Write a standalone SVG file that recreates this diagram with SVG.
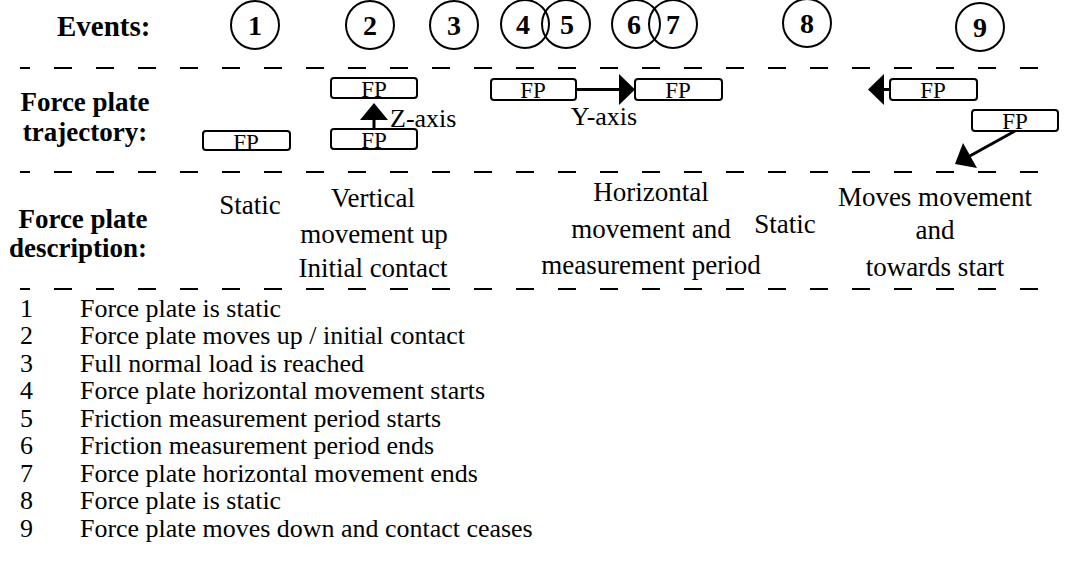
<svg xmlns="http://www.w3.org/2000/svg" width="1065" height="585" viewBox="0 0 1065 585">
<defs>
<style>
.t{font-family:"Liberation Serif","Times New Roman",serif;fill:#000}
.h{font-size:27px;font-weight:bold}
.n{font-size:28px;font-weight:bold;text-anchor:middle}
.d{font-size:27px;text-anchor:middle}
.l{font-size:24.5px}
.fp{font-size:23px;text-anchor:middle}
.ax{font-size:26px}
.c{fill:none;stroke:#000;stroke-width:2}
.box{fill:#fff;stroke:#000;stroke-width:2}
.dash{stroke:#000;stroke-width:2;stroke-dasharray:18 24;stroke-dashoffset:8}
.sh{stroke:#000;stroke-width:3;fill:none}
.ah{fill:#000}
</style>
</defs>
<rect width="1065" height="585" fill="#fff"/>
<g id="headers">
<text class="t h" x="57" y="36" style="font-size:29px">Events:</text>
<text class="t h" x="85" y="111" text-anchor="middle">Force plate</text>
<text class="t h" x="85" y="141" text-anchor="middle">trajectory:</text>
<text class="t h" x="83" y="228" text-anchor="middle">Force plate</text>
<text class="t h" x="78" y="257" text-anchor="middle">description:</text>
</g>
<g id="dividers">
<line class="dash" x1="20" y1="68" x2="1046" y2="68"/>
<line class="dash" x1="20" y1="172" x2="1046" y2="172"/>
<line class="dash" x1="20" y1="289" x2="1046" y2="289"/>
</g>
<g id="events">
<g id="ev1"><circle class="c" cx="255" cy="25" r="24"/><text class="t n" x="255" y="35">1</text></g>
<g id="ev2"><circle class="c" cx="370" cy="25" r="24"/><text class="t n" x="370" y="35">2</text></g>
<g id="ev3"><circle class="c" cx="454" cy="25" r="24"/><text class="t n" x="454" y="35">3</text></g>
<g id="ev4"><circle class="c" cx="525" cy="24" r="24"/><text class="t n" x="523" y="34">4</text></g>
<g id="ev5"><circle class="c" cx="566" cy="24" r="24"/><text class="t n" x="567" y="34">5</text></g>
<g id="ev6"><circle class="c" cx="636" cy="24" r="24"/><text class="t n" x="634" y="34">6</text></g>
<g id="ev7"><circle class="c" cx="673" cy="24" r="24"/><text class="t n" x="673" y="34">7</text></g>
<g id="ev8"><circle class="c" cx="807" cy="23" r="24"/><text class="t n" x="807" y="33">8</text></g>
<g id="ev9"><circle class="c" cx="980" cy="27" r="24"/><text class="t n" x="980" y="37">9</text></g>
</g>
<g id="plates">
<g id="fp-static"><rect class="box" x="203" y="131" width="87" height="19" rx="3"/><text class="t fp" x="246" y="150">FP</text></g>
<g id="fp-z-low"><rect class="box" x="331" y="129" width="86" height="20" rx="3"/><text class="t fp" x="374" y="148">FP</text></g>
<g id="fp-z-up"><rect class="box" x="331" y="78" width="86" height="20" rx="3"/><text class="t fp" x="374" y="97">FP</text></g>
<g id="fp-y-start"><rect class="box" x="491" y="79" width="85" height="21" rx="3"/><text class="t fp" x="533" y="98">FP</text></g>
<g id="fp-y-end"><rect class="box" x="635" y="79" width="87" height="21" rx="3"/><text class="t fp" x="678" y="98">FP</text></g>
<g id="fp-back"><rect class="box" x="890" y="79" width="87" height="21" rx="3"/><text class="t fp" x="933" y="98">FP</text></g>
<g id="fp-down"><rect class="box" x="972" y="110" width="86" height="21" rx="3"/><text class="t fp" x="1015" y="129">FP</text></g>
</g>
<g id="connectors">
<line class="sh" x1="374" y1="129" x2="374" y2="118"/>
<polygon class="ah" points="374,103 360,120 388,120"/>
<line class="sh" x1="576" y1="89.5" x2="620" y2="89.5"/>
<polygon class="ah" points="635,89.5 619,74 619,105"/>
<line class="sh" x1="890" y1="89.5" x2="880" y2="89.5"/>
<polygon class="ah" points="868,89.5 884,74 884,105"/>
<line class="sh" x1="1015" y1="131" x2="968" y2="157"/>
<polygon class="ah" points="955,164 963,143 977,168"/>
</g>
<g id="axis-labels">
<text class="t ax" x="390" y="127">Z-axis</text>
<text class="t ax" x="604" y="125" text-anchor="middle">Y-axis</text>
</g>
<g id="descriptions">
<text class="t d" x="250" y="214">Static</text>
<text class="t d" x="373" y="207">Vertical</text>
<text class="t d" x="374" y="243">movement up</text>
<text class="t d" x="373" y="277">Initial contact</text>
<text class="t d" x="651" y="201">Horizontal</text>
<text class="t d" x="651" y="238">movement and</text>
<text class="t d" x="651" y="274">measurement period</text>
<text class="t d" x="785" y="233">Static</text>
<text class="t d" x="935" y="206">Moves movement</text>
<text class="t d" x="935" y="239">and</text>
<text class="t d" x="935" y="276">towards start</text>
</g>
<g id="legend" transform="scale(1.06,1)">
<text class="t l" x="18.9" y="317">1</text><text class="t l" x="75.5" y="317">Force plate is static</text>
<text class="t l" x="18.9" y="344.5">2</text><text class="t l" x="75.5" y="344.5">Force plate moves up / initial contact</text>
<text class="t l" x="18.9" y="372">3</text><text class="t l" x="75.5" y="372">Full normal load is reached</text>
<text class="t l" x="18.9" y="399.5">4</text><text class="t l" x="75.5" y="399.5">Force plate horizontal movement starts</text>
<text class="t l" x="18.9" y="427">5</text><text class="t l" x="75.5" y="427">Friction measurement period starts</text>
<text class="t l" x="18.9" y="454.5">6</text><text class="t l" x="75.5" y="454.5">Friction measurement period ends</text>
<text class="t l" x="18.9" y="482">7</text><text class="t l" x="75.5" y="482">Force plate horizontal movement ends</text>
<text class="t l" x="18.9" y="509.5">8</text><text class="t l" x="75.5" y="509.5">Force plate is static</text>
<text class="t l" x="18.9" y="537">9</text><text class="t l" x="75.5" y="537">Force plate moves down and contact ceases</text>
</g>
</svg>
